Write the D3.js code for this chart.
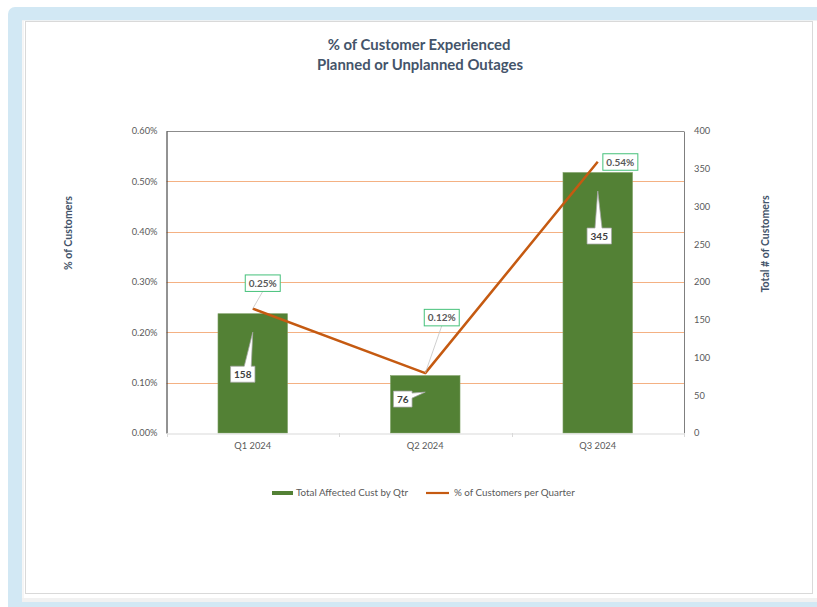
<!DOCTYPE html>
<html><head><meta charset="utf-8">
<script src="https://cdn.jsdelivr.net/npm/d3@7"></script>
<style>body{margin:0;background:#fff}svg{display:block}text{font-family:Lato,"Open Sans",sans-serif}</style>
</head><body>
<svg id="c" width="817" height="607"></svg>
<script>
// ---- data ----
const categories = ["Q1 2024", "Q2 2024", "Q3 2024"];
const totalAffected = [158, 76, 345];
const pctCustomers = [0.00247, 0.00119, 0.00539];
const leftTicks = [0, 0.001, 0.002, 0.003, 0.004, 0.005, 0.006];
const rightTicks = [0, 50, 100, 150, 200, 250, 300, 350, 400];
const titleLines = ["% of Customer Experienced", "Planned or Unplanned Outages"];
const seriesNames = ["Total Affected Cust by Qtr", "% of Customers per Quarter"];
const leftAxisTitle = "% of Customers";
const rightAxisTitle = "Total # of Customers";

// ---- layout (label placement offsets, not data) ----
const pctLabelOffset = [[10, -25.5, true], [16.5, -55.5, true], [22.6, 0.3, false]];
const barLabelOffset = [[-10, 42], [-22.5, 7], [1.5, 45]];
const barTipBelowTop = [18.5, 16.5, 18.5];

const C = {
  blue: "#d2e8f4", green: "#538135", orange: "#c55a11", grid: "#f4b183",
  tick: "#595959", title: "#44546a", labelGreen: "#45c17a"
};

const svg = d3.select("#c");

// frame
svg.append("rect").attr("x", 8).attr("y", 7).attr("width", 830).attr("height", 620).attr("rx", 7).attr("fill", C.blue);
svg.append("rect").attr("x", 22).attr("y", 20).attr("width", 800).attr("height", 578).attr("fill", "#ffffff");
svg.append("rect").attr("x", 22).attr("y", 598).attr("width", 800).attr("height", 4).attr("fill", "#f1f1f1");
svg.append("line").attr("x1", 23).attr("x2", 23).attr("y1", 20).attr("y2", 598).attr("stroke", "#ececec");
svg.append("line").attr("x1", 22).attr("x2", 817).attr("y1", 20.5).attr("y2", 20.5).attr("stroke", "#eef2f4");
svg.append("rect").attr("x", 25.5).attr("y", 21.5).attr("width", 787).attr("height", 572)
  .attr("fill", "none").attr("stroke", "#d9d9d9");

// scales
const L = 166.5, R = 684, T = 131, B = 433;
const x = d3.scaleBand().domain(categories).range([L, R]).padding(0);
const yL = d3.scaleLinear().domain([0, 0.006]).range([B, T]);
const yR = d3.scaleLinear().domain([0, 400]).range([B, T]);
const barW = x.bandwidth() * 0.403;
const cx = c => x(c) + x.bandwidth() / 2;

// gridlines
svg.append("g").selectAll("line").data(leftTicks.filter(d => d > 0 && d < 0.006)).join("line")
  .attr("x1", L).attr("x2", R).attr("y1", d => Math.round(yL(d)) + 0.5).attr("y2", d => Math.round(yL(d)) + 0.5)
  .attr("stroke", C.grid).attr("stroke-width", 1);

// plot top border
svg.append("line").attr("x1", L).attr("x2", R).attr("y1", T + 0.5).attr("y2", T + 0.5).attr("stroke", "#8c8c8c");

// bars
svg.append("g").selectAll("rect").data(categories).join("rect")
  .attr("x", c => cx(c) - barW / 2).attr("width", barW)
  .attr("y", (c, i) => yR(totalAffected[i])).attr("height", (c, i) => B - yR(totalAffected[i]))
  .attr("fill", C.green).attr("stroke", "#7ea066").attr("stroke-width", 0.6);

// axes
const axL = d3.axisLeft(yL).tickValues(leftTicks).tickFormat(d3.format(".2%")).tickSize(0).tickPadding(9);
const gL = svg.append("g").attr("transform", `translate(${L},0)`).call(axL);
gL.select(".domain").attr("stroke", "#262626");
gL.selectAll("text").attr("fill", C.tick).attr("font-size", 9.3).style("font-family", "Lato");

const axR = d3.axisRight(yR).tickValues(rightTicks).tickSize(0).tickPadding(10);
const gR = svg.append("g").attr("transform", `translate(${R},0)`).call(axR);
gR.select(".domain").attr("stroke", "#7f7f7f");
gR.selectAll("text").attr("fill", C.tick).attr("font-size", 9.3).style("font-family", "Lato");

const axB = d3.axisBottom(x).tickSize(0).tickPadding(9);
const gB = svg.append("g").attr("transform", `translate(0,${B + 0.5})`).call(axB);
gB.select(".domain").attr("stroke", "#d9d9d9");
gB.selectAll("text").attr("fill", C.tick).attr("font-size", 9.3).style("font-family", "Lato");
// category boundary ticks
const bounds = categories.map(c => x(c)).concat([R]);
svg.append("g").selectAll("line").data(bounds).join("line")
  .attr("x1", d => Math.round(d) + 0.5).attr("x2", d => Math.round(d) + 0.5)
  .attr("y1", B).attr("y2", B + 4).attr("stroke", "#d9d9d9");

// line series
const pts = categories.map((c, i) => [cx(c), yL(pctCustomers[i])]);
svg.append("path").attr("d", d3.line()(pts)).attr("fill", "none")
  .attr("stroke", C.orange).attr("stroke-width", 2.5).attr("stroke-linejoin", "round");

// callout path helper
function callout(bx, by, w, h, tx, ty) {
  const x0 = bx - w / 2, x1 = bx + w / 2, y0 = by - h / 2, y1 = by + h / 2;
  const ndx = (tx - bx) / w, ndy = (ty - by) / h;
  const clamp = (v, a, b) => Math.max(a, Math.min(b, v));
  if (Math.abs(ndy) >= Math.abs(ndx)) {
    const bc = clamp(bx + (tx - bx) * 0.5, x0 + 4, x1 - 4);
    if (ty < by)
      return `M${x0},${y0}L${bc - 3.5},${y0}L${tx},${ty}L${bc + 3.5},${y0}L${x1},${y0}L${x1},${y1}L${x0},${y1}Z`;
    return `M${x0},${y0}L${x1},${y0}L${x1},${y1}L${bc + 3.5},${y1}L${tx},${ty}L${bc - 3.5},${y1}L${x0},${y1}Z`;
  } else {
    const bc = clamp(by + (ty - by) * 0.5, y0 + 3, y1 - 3);
    if (tx > bx)
      return `M${x0},${y0}L${x1},${y0}L${x1},${bc - 2.5}L${tx},${ty}L${x1},${bc + 2.5}L${x1},${y1}L${x0},${y1}Z`;
    return `M${x0},${y0}L${x1},${y0}L${x1},${y1}L${x0},${y1}L${x0},${bc + 2.5}L${tx},${ty}L${x0},${bc - 2.5}Z`;
  }
}

// bar value labels (callouts)
const fmtInt = d3.format("d");
categories.forEach((c, i) => {
  const tx = cx(c), ty = yR(totalAffected[i]) + barTipBelowTop[i];
  const bx = tx + barLabelOffset[i][0], by = ty + barLabelOffset[i][1];
  const g = svg.append("g");
  const t = g.append("text").attr("x", bx).attr("y", by).attr("dy", "0.35em").attr("text-anchor", "middle")
    .attr("font-size", 10).attr("font-weight", "bold").attr("fill", "#404040").text(fmtInt(totalAffected[i]));
  const w = t.node().getComputedTextLength() + 7, h = 16;
  g.insert("path", "text").attr("d", callout(bx, by, w, h, tx, ty))
    .attr("fill", "#ffffff").attr("stroke", "#a6a6a6").attr("stroke-width", 0.75);
});

// percent labels
const fmtPct = d3.format(".2%");
categories.forEach((c, i) => {
  const [px, py] = pts[i];
  const bx = px + pctLabelOffset[i][0], by = py + pctLabelOffset[i][1];
  const g = svg.append("g");
  const t = g.append("text").attr("x", bx).attr("y", by).attr("dy", "0.35em").attr("text-anchor", "middle")
    .attr("font-size", 10).attr("font-weight", "bold").attr("fill", "#595959").text(fmtPct(pctCustomers[i]));
  const w = t.node().getComputedTextLength() + 7, h = 16.5;
  if (pctLabelOffset[i][2]) {
    g.insert("line", "text").attr("x1", bx).attr("y1", by + h / 2).attr("x2", px).attr("y2", py)
      .attr("stroke", "#bfbfbf").attr("stroke-width", 0.75);
  }
  g.insert("rect", "text").attr("x", bx - w / 2).attr("y", by - h / 2).attr("width", w).attr("height", h)
    .attr("fill", "#ffffff").attr("stroke", C.labelGreen).attr("stroke-width", 1);
});

// title
svg.append("text").attr("x", 419).attr("y", 45).attr("text-anchor", "middle").attr("dy", "0.35em")
  .attr("font-size", 14.9).attr("font-weight", "bold").attr("fill", C.title).text(titleLines[0]);
svg.append("text").attr("x", 420).attr("y", 65).attr("text-anchor", "middle").attr("dy", "0.35em")
  .attr("font-size", 14.9).attr("font-weight", "bold").attr("fill", C.title).text(titleLines[1]);

// axis titles
svg.append("text").attr("transform", "translate(68,233) rotate(-90)").attr("text-anchor", "middle").attr("dy", "0.35em")
  .attr("font-size", 10.6).attr("font-weight", "bold").attr("fill", C.title).text(leftAxisTitle);
svg.append("text").attr("transform", "translate(765,244) rotate(-90)").attr("text-anchor", "middle").attr("dy", "0.35em")
  .attr("font-size", 10.6).attr("font-weight", "bold").attr("fill", C.title).text(rightAxisTitle);

// legend
const lg = svg.append("g");
lg.append("rect").attr("x", 272).attr("y", 491).attr("width", 21).attr("height", 4).attr("fill", C.green);
lg.append("text").attr("x", 296).attr("y", 493).attr("dy", "0.35em").attr("font-size", 9.8).attr("fill", C.tick).text(seriesNames[0]);
lg.append("line").attr("x1", 426).attr("x2", 449).attr("y1", 493).attr("y2", 493).attr("stroke", C.orange).attr("stroke-width", 2.2);
lg.append("text").attr("x", 454).attr("y", 493).attr("dy", "0.35em").attr("font-size", 9.8).attr("fill", C.tick).text(seriesNames[1]);
</script>
</body></html>
